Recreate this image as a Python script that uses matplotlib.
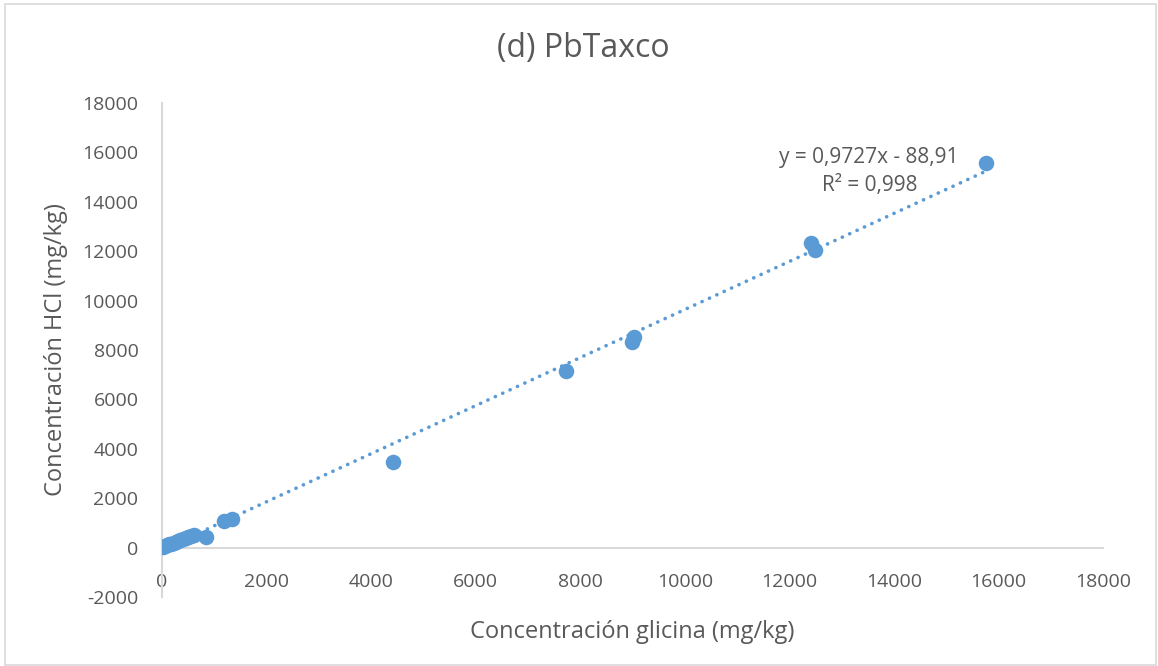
import matplotlib
matplotlib.use("Agg")
import matplotlib.pyplot as plt
from matplotlib.patches import Rectangle
import numpy as np

# Pb concentrations: glycine extraction vs HCl extraction (mg/kg)
glicina = [15760, 12415, 12490, 9030, 8990, 7728, 4425, 1330, 1185, 840,
           20, 60, 100, 140, 180, 220, 260, 300, 350, 400, 450, 500, 560, 610]
hcl = [15570, 12350, 12030, 8540, 8330, 7170, 3450, 1170, 1060, 430,
       20, 70, 110, 130, 160, 190, 230, 250, 300, 340, 390, 430, 470, 520]

# Linear trendline coefficients
pendiente = 0.9727
intercepto = -88.91
r2 = 0.998

x_ticks = list(range(0, 18001, 2000))
y_ticks = list(range(-2000, 18001, 2000))

plt.rcParams['font.family'] = ['Open Sans', 'DejaVu Sans']
gris = '#595959'
azul = '#5b9bd5'
eje = '#d9d9d9'

W, H = 1158, 666
fig = plt.figure(figsize=(W/100, H/100), dpi=100)
ax = fig.add_axes([162/W, 1-597/H, (1103-162)/W, (597-103)/H])

# chart border
fig.patches.append(Rectangle((5/W, 1/H), 1151/W, 661/H, transform=fig.transFigure,
                             fill=False, edgecolor=eje, linewidth=1.2))

ax.scatter(glicina, hcl, s=125, color=azul, zorder=3, linewidths=0)

xt = np.array([min(glicina), max(glicina)])
ax.plot(xt, pendiente*xt + intercepto, color=azul, linewidth=2.6,
        linestyle=(0, (0.05, 2.2)), dash_capstyle='round', zorder=2)

ax.set_xlim(0, 18000)
ax.set_ylim(-2000, 18000)
ax.set_xticks(x_ticks)
ax.set_yticks(y_ticks)
ax.set_xticklabels([str(v) for v in x_ticks])
ax.set_yticklabels([str(v) for v in y_ticks])

for s in ['top', 'right']:
    ax.spines[s].set_visible(False)
ax.spines['bottom'].set_position(('data', 0))
ax.spines['bottom'].set_color(eje)
ax.spines['left'].set_color(eje)
ax.spines['bottom'].set_linewidth(1.5)
ax.spines['left'].set_linewidth(1.5)
ax.tick_params(axis='x', length=0, pad=18, labelsize=14, labelcolor=gris)
ax.tick_params(axis='y', length=0, pad=17, labelsize=14, labelcolor=gris)

ax.set_xlabel('Concentración glicina (mg/kg)', fontsize=17, color=gris)
ax.xaxis.set_label_coords(0.5, -0.047)
ax.set_ylabel('Concentración HCl (mg/kg)', fontsize=17, color=gris)
ax.yaxis.set_label_coords(-0.1, 0.5)

fig.text(583/W, 1-48/H, '(d) PbTaxco', fontsize=23, color=gris, ha='center', va='center')

ecuacion = f'y = {pendiente:.4f}x - {abs(intercepto):.2f}'.replace('.', ',')
fig.text(869/W, 1-158/H, ecuacion, fontsize=15, color=gris, ha='center', va='center')
fig.text(870/W, 1-186/H, f'R² = {r2:.3f}'.replace('.', ','), fontsize=15, color=gris,
         ha='center', va='center')

fig.savefig('out.png', dpi=100)
